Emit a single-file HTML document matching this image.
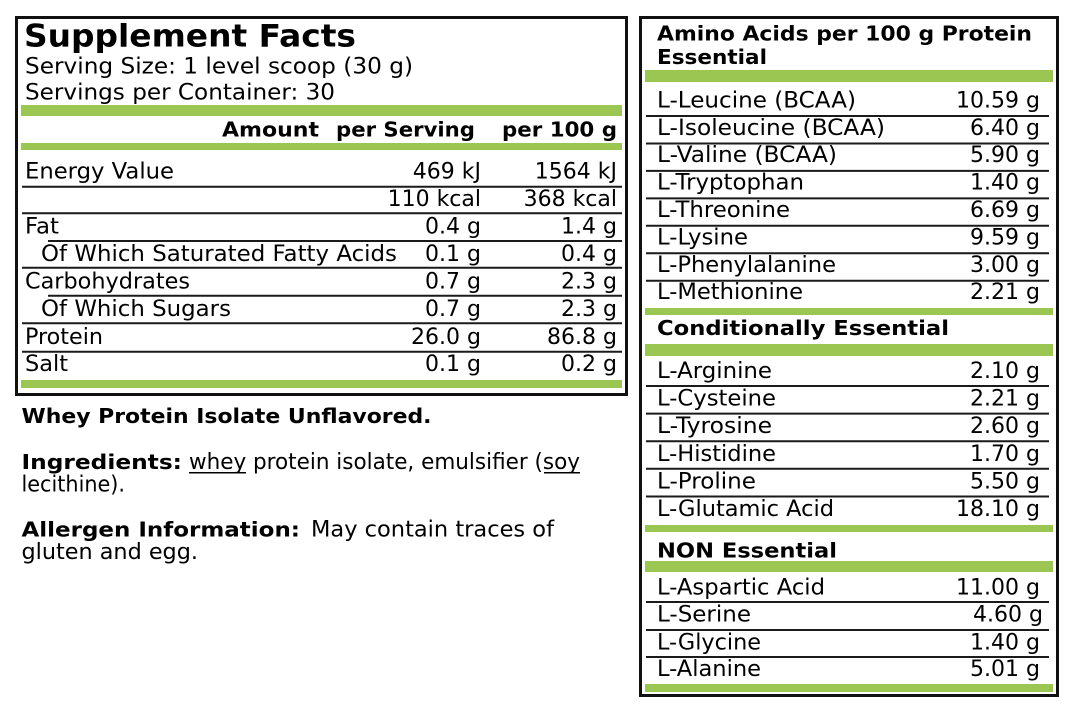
<!DOCTYPE html>
<html>
<head>
<meta charset="utf-8">
<style>
html,body{margin:0;padding:0;background:#fff;}
svg{display:block;}
text{font-family:"DejaVu Sans","Liberation Sans",sans-serif;font-size:22px;fill:#000;}
.b{font-weight:bold;}
.v{text-anchor:end;}
</style>
</head>
<body>
<svg width="1071" height="723" viewBox="0 0 1071 723" xmlns="http://www.w3.org/2000/svg">
<rect x="0" y="0" width="1071" height="723" fill="#fff"/>

<!-- LEFT BOX -->
<rect x="16.5" y="17.5" width="610" height="377" fill="none" stroke="#111" stroke-width="3"/>
<text class="b" x="24" y="46.7" font-size="31" textLength="332" lengthAdjust="spacingAndGlyphs" style="font-size:31px">Supplement Facts</text>
<text x="25" y="73.3" textLength="388" lengthAdjust="spacingAndGlyphs">Serving Size: 1 level scoop (30 g)</text>
<text x="25" y="99.3" textLength="310" lengthAdjust="spacingAndGlyphs">Servings per Container: 30</text>

<rect x="21" y="105" width="601" height="11" fill="#9bc651"/>
<text class="b" x="222" y="136.7" textLength="97" lengthAdjust="spacingAndGlyphs" style="font-size:20px">Amount</text>
<text class="b" x="336" y="136.7" textLength="139" lengthAdjust="spacingAndGlyphs" style="font-size:20px">per Serving</text>
<text class="b" x="502" y="136.7" textLength="115" lengthAdjust="spacingAndGlyphs" style="font-size:20px">per 100 g</text>
<rect x="21" y="143" width="601" height="7" fill="#9bc651"/>

<text x="25" y="178.5" textLength="149" lengthAdjust="spacingAndGlyphs">Energy Value</text>
<text class="v" x="481" y="178.5">469 kJ</text>
<text class="v" x="617" y="178.5">1564 kJ</text>
<line x1="22" y1="186.7" x2="622" y2="186.7" stroke="#1a1a1a" stroke-width="2"/>

<text class="v" x="481" y="206">110 kcal</text>
<text class="v" x="617" y="206">368 kcal</text>
<line x1="22" y1="213.3" x2="622" y2="213.3" stroke="#1a1a1a" stroke-width="2"/>

<text x="25" y="233.5" textLength="34" lengthAdjust="spacingAndGlyphs">Fat</text>
<text class="v" x="481" y="233.5">0.4 g</text>
<text class="v" x="617" y="233.5">1.4 g</text>
<line x1="48" y1="241" x2="622" y2="241" stroke="#1a1a1a" stroke-width="2"/>

<text x="41" y="261" textLength="356" lengthAdjust="spacingAndGlyphs">Of Which Saturated Fatty Acids</text>
<text class="v" x="481" y="261">0.1 g</text>
<text class="v" x="617" y="261">0.4 g</text>
<line x1="22" y1="267.7" x2="622" y2="267.7" stroke="#1a1a1a" stroke-width="2"/>

<text x="25" y="288.5" textLength="165" lengthAdjust="spacingAndGlyphs">Carbohydrates</text>
<text class="v" x="481" y="288.5">0.7 g</text>
<text class="v" x="617" y="288.5">2.3 g</text>
<line x1="48" y1="295.7" x2="622" y2="295.7" stroke="#1a1a1a" stroke-width="2"/>

<text x="41" y="316" textLength="190" lengthAdjust="spacingAndGlyphs">Of Which Sugars</text>
<text class="v" x="481" y="316">0.7 g</text>
<text class="v" x="617" y="316">2.3 g</text>
<line x1="22" y1="323.3" x2="622" y2="323.3" stroke="#1a1a1a" stroke-width="2"/>

<text x="25" y="343.8" textLength="78" lengthAdjust="spacingAndGlyphs">Protein</text>
<text class="v" x="481" y="343.8">26.0 g</text>
<text class="v" x="617" y="343.8">86.8 g</text>
<line x1="22" y1="351.7" x2="622" y2="351.7" stroke="#1a1a1a" stroke-width="2"/>

<text x="25" y="371" textLength="43" lengthAdjust="spacingAndGlyphs">Salt</text>
<text class="v" x="481" y="371">0.1 g</text>
<text class="v" x="617" y="371">0.2 g</text>
<rect x="21" y="380" width="601" height="8" fill="#9bc651"/>

<!-- BOTTOM TEXT -->
<text class="b" x="21.5" y="423" textLength="410" lengthAdjust="spacingAndGlyphs" style="font-size:20px">Whey Protein Isolate Unflavored.</text>
<text class="b" x="21.5" y="469" textLength="160.5" lengthAdjust="spacingAndGlyphs" style="font-size:20px">Ingredients:</text>
<text x="189" y="469" textLength="391" lengthAdjust="spacingAndGlyphs">whey protein isolate, emulsifier (soy</text>
<line x1="189" y1="472.8" x2="246" y2="472.8" stroke="#000" stroke-width="1.5"/>
<line x1="544" y1="472.8" x2="580" y2="472.8" stroke="#000" stroke-width="1.5"/>
<text x="21.5" y="491.7" textLength="103.5" lengthAdjust="spacingAndGlyphs">lecithine).</text>
<text class="b" x="21.5" y="536.7" textLength="278.5" lengthAdjust="spacingAndGlyphs" style="font-size:20px">Allergen Information:</text>
<text x="311" y="536.7" textLength="243" lengthAdjust="spacingAndGlyphs">May contain traces of</text>
<text x="21.5" y="559" textLength="176.5" lengthAdjust="spacingAndGlyphs">gluten and egg.</text>

<!-- RIGHT BOX -->
<rect x="640.5" y="17.5" width="417" height="678" fill="none" stroke="#111" stroke-width="3"/>
<text class="b" x="657" y="40.7" textLength="375" lengthAdjust="spacingAndGlyphs" style="font-size:20px">Amino Acids per 100 g Protein</text>
<text class="b" x="657" y="64" textLength="110" lengthAdjust="spacingAndGlyphs" style="font-size:20px">Essential</text>
<rect x="645" y="70" width="408" height="12" fill="#9bc651"/>

<text x="657" y="107.3" textLength="199" lengthAdjust="spacingAndGlyphs">L-Leucine (BCAA)</text>
<text class="v" x="1040" y="107.3">10.59 g</text>
<line x1="646" y1="116" x2="1049" y2="116" stroke="#1a1a1a" stroke-width="2"/>
<text x="657" y="134.75" textLength="228" lengthAdjust="spacingAndGlyphs">L-Isoleucine (BCAA)</text>
<text class="v" x="1040" y="134.75">6.40 g</text>
<line x1="646" y1="143.45" x2="1049" y2="143.45" stroke="#1a1a1a" stroke-width="2"/>
<text x="657" y="162.2" textLength="180" lengthAdjust="spacingAndGlyphs">L-Valine (BCAA)</text>
<text class="v" x="1040" y="162.2">5.90 g</text>
<line x1="646" y1="170.9" x2="1049" y2="170.9" stroke="#1a1a1a" stroke-width="2"/>
<text x="657" y="189.65" textLength="147" lengthAdjust="spacingAndGlyphs">L-Tryptophan</text>
<text class="v" x="1040" y="189.65">1.40 g</text>
<line x1="646" y1="198.35" x2="1049" y2="198.35" stroke="#1a1a1a" stroke-width="2"/>
<text x="657" y="217.1" textLength="133" lengthAdjust="spacingAndGlyphs">L-Threonine</text>
<text class="v" x="1040" y="217.1">6.69 g</text>
<line x1="646" y1="225.8" x2="1049" y2="225.8" stroke="#1a1a1a" stroke-width="2"/>
<text x="657" y="244.55" textLength="91" lengthAdjust="spacingAndGlyphs">L-Lysine</text>
<text class="v" x="1040" y="244.55">9.59 g</text>
<line x1="646" y1="253.25" x2="1049" y2="253.25" stroke="#1a1a1a" stroke-width="2"/>
<text x="657" y="272" textLength="179" lengthAdjust="spacingAndGlyphs">L-Phenylalanine</text>
<text class="v" x="1040" y="272">3.00 g</text>
<line x1="646" y1="280.7" x2="1049" y2="280.7" stroke="#1a1a1a" stroke-width="2"/>
<text x="657" y="299" textLength="146" lengthAdjust="spacingAndGlyphs">L-Methionine</text>
<text class="v" x="1040" y="299">2.21 g</text>
<rect x="645" y="308" width="408" height="7" fill="#9bc651"/>

<text class="b" x="657" y="335" textLength="292" lengthAdjust="spacingAndGlyphs" style="font-size:20px">Conditionally Essential</text>
<rect x="645" y="344" width="408" height="12" fill="#9bc651"/>

<text x="657" y="378" textLength="115" lengthAdjust="spacingAndGlyphs">L-Arginine</text>
<text class="v" x="1040" y="378">2.10 g</text>
<line x1="646" y1="386" x2="1049" y2="386" stroke="#1a1a1a" stroke-width="2"/>
<text x="657" y="405.6" textLength="119" lengthAdjust="spacingAndGlyphs">L-Cysteine</text>
<text class="v" x="1040" y="405.6">2.21 g</text>
<line x1="646" y1="413.6" x2="1049" y2="413.6" stroke="#1a1a1a" stroke-width="2"/>
<text x="657" y="433.2" textLength="115" lengthAdjust="spacingAndGlyphs">L-Tyrosine</text>
<text class="v" x="1040" y="433.2">2.60 g</text>
<line x1="646" y1="441.2" x2="1049" y2="441.2" stroke="#1a1a1a" stroke-width="2"/>
<text x="657" y="460.8" textLength="119" lengthAdjust="spacingAndGlyphs">L-Histidine</text>
<text class="v" x="1040" y="460.8">1.70 g</text>
<line x1="646" y1="468.8" x2="1049" y2="468.8" stroke="#1a1a1a" stroke-width="2"/>
<text x="657" y="488.4" textLength="99" lengthAdjust="spacingAndGlyphs">L-Proline</text>
<text class="v" x="1040" y="488.4">5.50 g</text>
<line x1="646" y1="496.5" x2="1049" y2="496.5" stroke="#1a1a1a" stroke-width="2"/>
<text x="657" y="515.8" textLength="177" lengthAdjust="spacingAndGlyphs">L-Glutamic Acid</text>
<text class="v" x="1040" y="515.8">18.10 g</text>
<rect x="645" y="525" width="408" height="7" fill="#9bc651"/>

<text class="b" x="657" y="557.7" textLength="180" lengthAdjust="spacingAndGlyphs" style="font-size:20px">NON Essential</text>
<rect x="645" y="561" width="408" height="11" fill="#9bc651"/>

<text x="657" y="594.3" textLength="168" lengthAdjust="spacingAndGlyphs">L-Aspartic Acid</text>
<text class="v" x="1040" y="594.3">11.00 g</text>
<line x1="646" y1="602" x2="1049" y2="602" stroke="#1a1a1a" stroke-width="2"/>
<text x="657" y="621.7" textLength="94" lengthAdjust="spacingAndGlyphs">L-Serine</text>
<text class="v" x="1043" y="621.7">4.60 g</text>
<line x1="646" y1="630" x2="1049" y2="630" stroke="#1a1a1a" stroke-width="2"/>
<text x="657" y="649.3" textLength="104" lengthAdjust="spacingAndGlyphs">L-Glycine</text>
<text class="v" x="1040" y="649.3">1.40 g</text>
<line x1="646" y1="657" x2="1049" y2="657" stroke="#1a1a1a" stroke-width="2"/>
<text x="657" y="676" textLength="104" lengthAdjust="spacingAndGlyphs">L-Alanine</text>
<text class="v" x="1040" y="676">5.01 g</text>
<rect x="645" y="684" width="408" height="8" fill="#9bc651"/>
</svg>
</body>
</html>
